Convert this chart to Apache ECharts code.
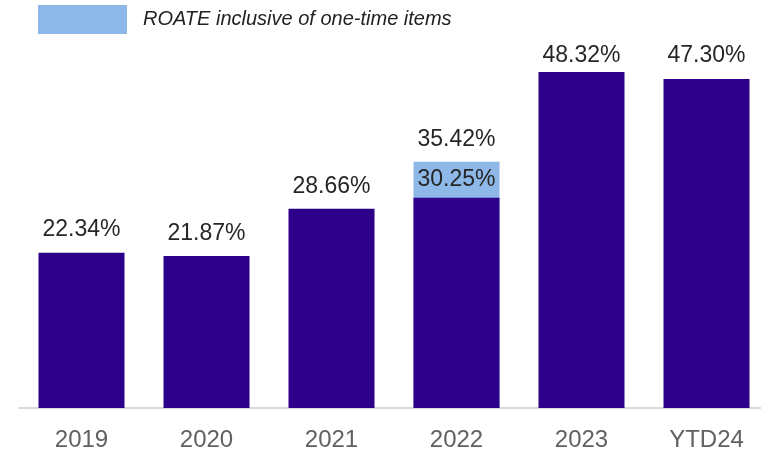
<!DOCTYPE html>
<html>
<head>
<meta charset="utf-8">
<script src="https://cdn.jsdelivr.net/npm/echarts@6/dist/echarts.min.js"></script>
<style>
  html, body { margin: 0; padding: 0; background: #fff; overflow: hidden; }
  #chart { width: 761px; height: 453px; }
</style>
</head>
<body>
<div id="chart"></div>
<script>
// Return on average tangible equity by year
const years = ['2019', '2020', '2021', '2022', '2023', 'YTD24'];
const roate = [22.34, 21.87, 28.66, 30.25, 48.32, 47.30];
// ROATE including one-time items (only reported for 2022)
const roateInclOneTime = [null, null, null, 35.42, null, null];
const legendName = 'ROATE inclusive of one-time items';

const DARK = '#2E0089';
const LIGHT = '#8DB8E8';
const LABEL_FONT = 'Liberation Sans, Arial, sans-serif';

// Label gaps above the dark bars: tighter for the overlaid 2022 bar,
// and the two tallest labels share one line near the top
const labelGap = { '2022': 6, '2023': 5, 'YTD24': 12 };

const coreData = roate.map((v, i) =>
  labelGap[years[i]] != null ? { value: v, label: { distance: labelGap[years[i]] } } : v
);

const chart = echarts.init(document.getElementById('chart'), null, { renderer: 'canvas' });
chart.setOption({
  animation: false,
  backgroundColor: '#ffffff',
  legend: {
    left: 38,
    top: 5,
    padding: 0,
    itemWidth: 89,
    itemHeight: 29,
    icon: 'rect',
    selectedMode: false,
    data: [legendName],
    textStyle: {
      fontFamily: LABEL_FONT,
      fontStyle: 'italic',
      fontSize: 20,
      color: '#222222',
      padding: [0, 0, 0, 11]
    }
  },
  // the last category band runs past the right edge of the canvas
  grid: { left: 19, width: 750, top: 60.3, height: 347.7, outerBoundsMode: 'none', containLabel: false },
  xAxis: {
    type: 'category',
    data: years,
    axisTick: { show: false },
    axisLine: { lineStyle: { color: '#D9D9D9', width: 2 } },
    axisLabel: {
      margin: 20,
      fontFamily: LABEL_FONT,
      fontSize: 24,
      color: '#616161'
    }
  },
  yAxis: {
    type: 'value',
    min: 0,
    max: 50,
    show: false,
    splitLine: { show: false }
  },
  series: [
    {
      name: legendName,
      type: 'bar',
      data: roateInclOneTime,
      barWidth: 86,
      barGap: '-100%',
      itemStyle: { color: LIGHT },
      label: {
        show: true,
        position: 'top',
        distance: 11,
        fontFamily: LABEL_FONT,
        fontSize: 23,
        color: '#262626',
        formatter: p => p.value.toFixed(2) + '%'
      }
    },
    {
      name: 'ROATE',
      type: 'bar',
      data: coreData,
      barWidth: 86,
      barGap: '-100%',
      itemStyle: { color: DARK },
      label: {
        show: true,
        position: 'top',
        distance: 11,
        fontFamily: LABEL_FONT,
        fontSize: 23,
        color: '#262626',
        formatter: p => p.value.toFixed(2) + '%'
      }
    }
  ]
});
</script>
</body>
</html>
